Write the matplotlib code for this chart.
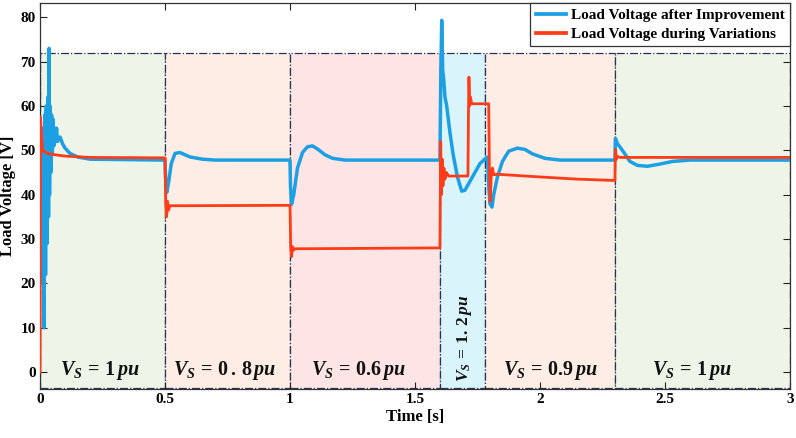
import matplotlib
matplotlib.use("Agg")
import matplotlib.pyplot as plt
from matplotlib.patches import Rectangle

plt.rcParams['font.family'] = ['Liberation Serif', 'DejaVu Serif']
plt.rcParams['font.weight'] = 'bold'
plt.rcParams['mathtext.fontset'] = 'custom'
plt.rcParams['mathtext.rm'] = 'Liberation Serif:bold'
plt.rcParams['mathtext.it'] = 'Liberation Serif:italic:bold'
plt.rcParams['mathtext.bf'] = 'Liberation Serif:bold'

# ---------------- data ----------------
blue_t = [0.000, 0.006, 0.010, 0.013, 0.016, 0.019, 0.022, 0.025, 0.028, 0.031,
          0.034, 0.036, 0.038, 0.040, 0.043, 0.046, 0.049, 0.052, 0.055, 0.058,
          0.062, 0.066, 0.070, 0.080, 0.090, 0.100, 0.120, 0.150, 0.200, 0.500,
          0.502, 0.507, 0.515, 0.525, 0.540, 0.560, 0.600, 0.650, 0.700, 1.000,
          1.002, 1.006, 1.015, 1.030, 1.050, 1.070, 1.090, 1.110, 1.140, 1.170,
          1.220, 1.600,
          1.603, 1.607, 1.611, 1.615, 1.620, 1.627, 1.640, 1.653, 1.670, 1.687,
          1.700, 1.720, 1.740, 1.760, 1.785, 1.790, 1.795, 1.800, 1.808, 1.815,
          1.830, 1.850, 1.875, 1.910, 1.940, 1.970, 2.020, 2.080, 2.300,
          2.302, 2.310, 2.330, 2.360, 2.390, 2.430, 2.480, 2.530, 2.600, 3.000]
blue_v = [48.0, 52.0, 20.0, 55.0, 10.0, 58.0, 22.0, 60.0, 29.0, 62.0,
          35.0, 73.0, 40.0, 60.0, 45.0, 58.0, 49.0, 57.0, 51.0, 55.0,
          52.0, 55.0, 52.0, 53.0, 51.5, 50.5, 49.3, 48.5, 48.0, 47.8,
          44.0, 40.5, 43.0, 47.0, 49.3, 49.5, 48.5, 48.0, 47.8, 47.8,
          42.0, 37.8, 40.0, 46.0, 49.5, 50.8, 51.0, 50.3, 49.0, 48.2,
          47.8, 47.8,
          65.0, 79.3, 68.0, 66.0, 62.0, 60.0, 54.0, 49.0, 44.0, 40.8,
          41.0, 43.0, 45.0, 47.0, 48.3, 48.5, 42.0, 38.0, 37.2, 40.0,
          44.0, 47.5, 49.8, 50.5, 50.2, 49.2, 48.2, 47.8, 47.8,
          52.7, 51.5, 50.0, 47.5, 46.6, 46.4, 46.9, 47.5, 47.8, 47.8]

red_t = [0.000, 0.002, 0.006, 0.010, 0.015, 0.030, 0.060, 0.100, 0.200, 0.500,
         0.503, 0.506, 0.510, 0.514, 0.520, 1.000,
         1.003, 1.006, 1.010, 1.015, 1.020, 1.600,
         1.603, 1.606, 1.609, 1.612, 1.616, 1.620, 1.626, 1.635, 1.712,
         1.714, 1.716, 1.719, 1.722, 1.727, 1.795,
         1.798, 1.801, 1.805, 1.810, 1.815, 1.830, 2.000, 2.150, 2.300,
         2.302, 2.306, 2.310, 2.320, 3.000]
red_v = [0.0, 57.5, 53.0, 50.0, 49.8, 49.3, 49.0, 48.7, 48.4, 48.3,
         38.0, 35.0, 38.5, 36.5, 37.5, 37.6,
         28.0, 26.0, 28.3, 27.5, 27.8, 28.0,
         52.0, 40.0, 48.0, 42.0, 46.0, 43.5, 45.0, 44.2, 44.2,
         58.0, 66.5, 60.0, 62.0, 60.5, 60.5,
         45.0, 38.5, 44.0, 46.0, 44.5, 44.6, 44.0, 43.5, 43.2,
         50.2, 48.0, 48.6, 48.4, 48.4]

region_edges = [0.0, 0.5, 1.0, 1.6, 1.78, 2.3, 3.0]
region_colors = ['#eef5e8', '#fdede5', '#fde5e5', '#daf4fb', '#fdede5', '#eef5e8']
region_labels = [r'$V_S\,=\,1\,pu$', r'$V_S\,=\,0\,.\,8\,pu$', r'$V_S\,=\,0.6\,pu$',
                 r'$V_S\,=\,1.\,2\,pu$', r'$V_S\,=\,0.9\,pu$', r'$V_S\,=\,1\,pu$']
label_x = [0.24, 0.74, 1.276, 1.70, 2.044, 2.61]

series_labels = ['Load Voltage after Improvement', 'Load Voltage during Variations']
x_ticks = [0, 0.5, 1, 1.5, 2, 2.5, 3]
x_ticklabels = ['0', '0.5', '1', '1.5', '2', '2.5', '3']
y_ticks = [0, 10, 20, 30, 40, 50, 60, 70, 80]

# ---------------- figure ----------------
fig = plt.figure(figsize=(7.96, 4.38), dpi=100)
ax = fig.add_axes([0.0503, 0.112, 0.942, 0.881])
ylo, yhi = -3.8, 83.2
box_top = 72
ax.set_xlim(0, 3)
ax.set_ylim(ylo, yhi)

edge_col = '#263352'
for i in range(len(region_colors)):
    x0, x1 = region_edges[i], region_edges[i + 1]
    ax.add_patch(Rectangle((x0, ylo + 0.3), x1 - x0, box_top - ylo - 0.3,
                           facecolor=region_colors[i], edgecolor=edge_col,
                           linestyle='-.', linewidth=0.9, zorder=0))

ax.plot(blue_t, blue_v, color='#1c9fe3', lw=2.5, label=series_labels[0], zorder=3)
ax.plot(red_t, red_v, color='#ff3b18', lw=2.0, label=series_labels[1], zorder=4)

for i, (lx, txt) in enumerate(zip(label_x, region_labels)):
    if i == 3:
        ax.text(lx, 7.5, txt, rotation=90, ha='center', va='center',
                fontsize=12.5, color='#111111', zorder=5)
    else:
        ax.text(lx, 0.4, txt, ha='center', va='center', fontsize=14.5,
                color='#111111', zorder=5)

ax.set_xticks(x_ticks)
ax.set_xticklabels(x_ticklabels)
ax.set_yticks(y_ticks)
ax.tick_params(direction='in', top=True, right=True, length=5, width=0.8,
               labelsize=11, colors='#222222', pad=3)
for lab in ax.get_xticklabels() + ax.get_yticklabels():
    lab.set_fontweight('bold')
    lab.set_color('black')
for sp in ax.spines.values():
    sp.set_linewidth(0.9)
    sp.set_color('#333333')

ax.set_xlabel('Time [s]', fontsize=12, fontweight='bold', labelpad=2)
ax.set_ylabel('Load Voltage [V]', fontsize=12, fontweight='bold', labelpad=3)

leg = ax.legend(loc='upper right', bbox_to_anchor=(1.0, 1.0), borderaxespad=0,
                fontsize=11, frameon=True, fancybox=False, framealpha=1,
                edgecolor='#333333', handlelength=2.0, handletextpad=0.3,
                labelspacing=0.35, borderpad=0.35)
leg.get_frame().set_linewidth(0.9)
for t in leg.get_texts():
    t.set_fontweight('bold')
for h in leg.get_lines():
    h.set_linewidth(2.7)
leg.set_zorder(10)

fig.savefig('out.png', dpi=100)
